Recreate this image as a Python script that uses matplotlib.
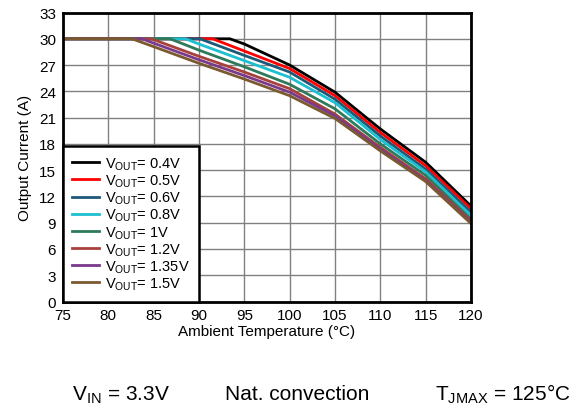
import matplotlib.pyplot as plt

plt.rcParams['font.family'] = ['Liberation Sans', 'DejaVu Sans']
plt.rcParams['mathtext.fontset'] = 'custom'
plt.rcParams['mathtext.rm'] = 'Liberation Sans'

labels = ["0.4V", "0.5V", "0.6V", "0.8V", "1V", "1.2V", "1.35V", "1.5V"]
colors = ["#000000", "#ff0000", "#1d5a78", "#1cc0d0", "#2e7a5a", "#a8403c", "#7a3a8c", "#7a5a2e"]

# temperature / current pairs for each Vout curve
t_04 = [75, 93.4, 95, 100, 105, 110, 115, 120]
i_04 = [30, 30, 29.4, 27.0, 23.9, 19.7, 15.9, 10.9]
t_05 = [75, 91.5, 95, 100, 105, 110, 115, 120]
i_05 = [30, 30, 28.6, 26.6, 23.5, 19.3, 15.5, 10.6]
t_06 = [75, 90.1, 95, 100, 105, 110, 115, 120]
i_06 = [30, 30, 28.1, 26.2, 23.1, 18.9, 15.1, 10.2]
t_08 = [75, 88.5, 90, 95, 100, 105, 110, 115, 120]
i_08 = [30, 30, 29.4, 27.5, 25.6, 22.7, 18.5, 14.8, 9.8]
t_10 = [75, 86.8, 90, 95, 100, 105, 110, 115, 120]
i_10 = [30, 30, 28.7, 26.8, 24.8, 22.0, 18.0, 14.4, 9.4]
t_12 = [75, 84.8, 85, 90, 95, 100, 105, 110, 115, 120]
i_12 = [30, 30, 29.9, 28.0, 26.2, 24.3, 21.4, 17.6, 14.0, 9.2]
t_135 = [75, 83.7, 85, 90, 95, 100, 105, 110, 115, 120]
i_135 = [30, 30, 29.5, 27.6, 25.8, 23.9, 21.2, 17.4, 13.8, 9.0]
t_15 = [75, 82.6, 85, 90, 95, 100, 105, 110, 115, 120]
i_15 = [30, 30, 29.1, 27.2, 25.4, 23.5, 20.9, 17.2, 13.7, 8.9]

temps = [t_04, t_05, t_06, t_08, t_10, t_12, t_135, t_15]
currents = [i_04, i_05, i_06, i_08, i_10, i_12, i_135, i_15]

fig = plt.figure(figsize=(5.85, 4.06), dpi=100)
ax = fig.add_axes([63 / 585, 1 - 302.5 / 406, 408 / 585, 289 / 406])

for t, i, lab, c in zip(temps, currents, labels, colors):
    ax.plot(t, i, color=c, lw=2, label=r"V$_{\mathrm{OUT}}$= " + lab)

ax.set_xlim(75, 120)
ax.set_ylim(0, 33)
ax.set_xticks(range(75, 121, 5))
ax.set_yticks(range(0, 34, 3))
ax.grid(True, color="#808080", lw=1)
ax.set_axisbelow(True)
ax.tick_params(length=0, labelsize=11, pad=5)
for s in ax.spines.values():
    s.set_linewidth(2)
ax.set_xlabel("Ambient Temperature (°C)", fontsize=11, labelpad=1)
ax.set_ylabel("Output Current (A)", fontsize=11, labelpad=5)

leg = ax.legend(loc="lower left", bbox_to_anchor=(0, 0), borderaxespad=0,
                fontsize=10.5, fancybox=False, framealpha=1, edgecolor="black",
                handlelength=1.8, labelspacing=0.03, handletextpad=0.45,
                borderpad=0.65)
leg.get_frame().set_linewidth(1.8)

fig.text(0.206, 0.015, r"V$_{\mathrm{IN}}$ = 3.3V", fontsize=15, ha="center")
fig.text(0.5085, 0.015, "Nat. convection", fontsize=15, ha="center")
fig.text(0.859, 0.015, r"T$_{\mathrm{JMAX}}$ = 125°C", fontsize=15, ha="center")

fig.savefig("out.png", dpi=100)
